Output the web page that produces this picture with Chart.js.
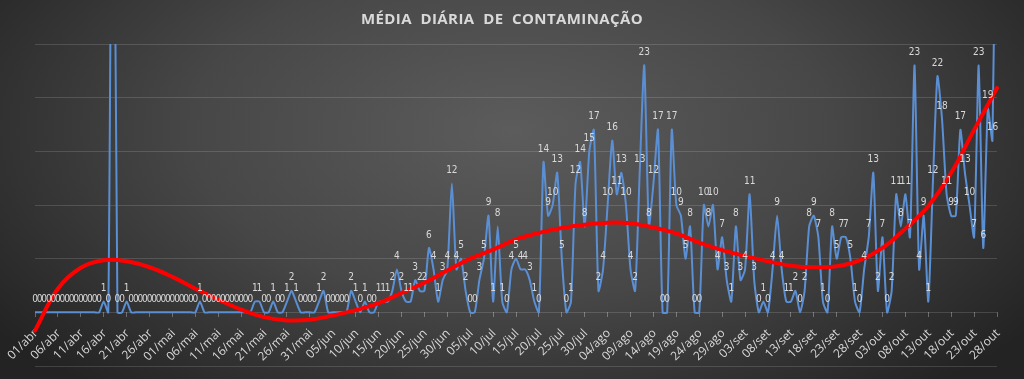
<!DOCTYPE html>
<html lang="pt">
<head>
<meta charset="UTF-8">
<title>Média diária de contaminação</title>
<script src="https://cdn.jsdelivr.net/npm/chart.js"></script>
<style>
  html, body { margin: 0; padding: 0; background: #2b2b2b; }
</style>
</head>
<body>
<canvas id="grafico" width="1024" height="379"></canvas>
<script>
// casos por dia (01/abr a 28/out)
const casosAbr = [0,0,0,0,0,0,0,0,0,0,0,0,0,0,0,1,0,60,0,0,1,0,0,0,0,0,0,0,0,0];
const casosMai = [0,0,0,0,0,0,1,0,0,0,0,0,0,0,0,0,0,0,1,1,0,0,1,0,0,1,2,1,0,0,0];
const casosJun = [0,1,2,0,0,0,0,0,2,1,0,1,0,0,1,1,1,2,4,2,1,1,3,2,2,6,4,1,3,4];
const casosJul = [12,4,5,2,0,0,3,5,9,1,8,1,0,4,5,4,4,3,1,0,14,9,10,13,5,0,1,12,14,8,15];
const casosAgo = [17,2,4,10,16,11,13,10,4,2,13,23,8,12,17,0,0,17,10,9,5,8,0,0,10,8,10,4,7,3,1];
const casosSet = [8,3,4,11,3,0,1,0,4,9,4,1,1,2,0,2,8,9,7,1,0,8,5,7,7,5,1,0,4,7];
const casosOut = [13,2,7,0,2,11,8,11,7,23,4,9,1,12,22,18,11,9,9,17,13,10,7,23,6,19,16,50];

// linha de tendência (polinomial do Excel), lida a cada 5 dias
const tendencia = [-1.7, 2.2, 4.15, 4.85, 4.75, 4.2, 3.3, 2.2, 1.2, 0.25, -0.45, -0.75, -0.7, -0.3,
  0.2, 0.85, 1.8, 2.75, 3.9, 5.0, 5.85, 6.8, 7.4, 7.85, 8.15, 8.35, 8.3, 7.9, 7.35, 6.5, 5.8,
  5.25, 4.75, 4.35, 4.2, 4.3, 4.85, 6.0, 7.8, 9.9, 13.0, 17.0, 20.9];

// rótulos do eixo, um a cada 5 dias
const rotulosEixo = ['01/abr','06/abr','11/abr','16/abr','21/abr','26/abr',
  '01/mai','06/mai','11/mai','16/mai','21/mai','26/mai','31/mai',
  '05/jun','10/jun','15/jun','20/jun','25/jun','30/jun',
  '05/jul','10/jul','15/jul','20/jul','25/jul','30/jul',
  '04/ago','09/ago','14/ago','19/ago','24/ago','29/ago',
  '03/set','08/set','13/set','18/set','23/set','28/set',
  '03/out','08/out','13/out','18/out','23/out','28/out'];

const casos = [].concat(casosAbr, casosMai, casosJun, casosJul, casosAgo, casosSet, casosOut);
const dias = casos.map((_, i) => i);
const tendSerie = dias.map(i => (i % 5 === 0 ? tendencia[i / 5] : null));

const Y_MAX = 25;

// fundo escuro com degradê + título
const fundo = {
  id: 'fundo',
  beforeDraw(chart) {
    const ctx = chart.ctx;
    ctx.save();
    ctx.translate(512, 130);
    ctx.scale(640, 340);
    const g = ctx.createRadialGradient(0, 0, 0, 0, 0, 1);
    g.addColorStop(0, '#5c5c5c');
    g.addColorStop(0.5, '#474747');
    g.addColorStop(1, '#232323');
    ctx.fillStyle = g;
    ctx.fillRect(-1, -1, 2, 2);
    ctx.restore();

    ctx.save();
    ctx.font = 'bold 15px "Open Sans", sans-serif';
    ctx.letterSpacing = '0.4px';
    ctx.fillStyle = '#d9d9d9';
    ctx.textAlign = 'center';
    ctx.textBaseline = 'middle';
    ctx.fillText('MÉDIA  DIÁRIA  DE  CONTAMINAÇÃO', 502, 20);
    ctx.restore();
  }
};

// datas do eixo x, inclinadas 45°, logo abaixo da linha do zero
const eixoDatas = {
  id: 'eixoDatas',
  beforeDatasetsDraw(chart) {
    const ctx = chart.ctx;
    const x = chart.scales.x;
    const y0 = chart.scales.y.getPixelForValue(0);
    ctx.save();
    ctx.font = '12px "Open Sans", sans-serif';
    ctx.fillStyle = '#d9d9d9';
    ctx.textAlign = 'right';
    ctx.textBaseline = 'middle';
    rotulosEixo.forEach((txt, k) => {
      const px = x.getPixelForValue(k * 5);
      ctx.save();
      ctx.translate(px + 1, y0 + 19);
      ctx.rotate(-Math.PI / 4);
      ctx.fillText(txt, 0, 0);
      ctx.restore();
    });
    ctx.restore();
  }
};

// valor de cada ponto acima da linha azul
const rotulos = {
  id: 'rotulos',
  afterDatasetsDraw(chart) {
    const ctx = chart.ctx;
    const meta = chart.getDatasetMeta(1);
    ctx.save();
    ctx.font = '10px "Liberation Sans Narrow", "DejaVu Sans Condensed", sans-serif';
    ctx.fillStyle = '#d9d9d9';
    ctx.textAlign = 'center';
    ctx.textBaseline = 'middle';
    meta.data.forEach((pt, i) => {
      const v = casos[i];
      if (v > Y_MAX) return;
      ctx.fillText(String(v), pt.x, pt.y - 13);
    });
    ctx.restore();
  }
};

new Chart(document.getElementById('grafico'), {
  type: 'line',
  data: {
    labels: dias,
    datasets: [
      {
        label: 'Tendência',
        data: tendSerie,
        borderColor: '#ff0000',
        borderWidth: 4,
        borderCapStyle: 'round',
        pointRadius: 0,
        tension: 0.4,
        spanGaps: true,
        order: 0
      },
      {
        label: 'Casos',
        data: casos,
        borderColor: '#5b8fd4',
        borderWidth: 2,
        pointRadius: 0,
        tension: 0.2,
        order: 1
      }
    ]
  },
  options: {
    responsive: false,
    devicePixelRatio: 1,
    animation: false,
    layout: { padding: { left: 35, right: 27, top: 44, bottom: 13 } },
    plugins: { legend: { display: false }, tooltip: { enabled: false } },
    scales: {
      x: {
        position: { y: 0 },
        offset: false,
        border: { display: false },
        grid: { drawOnChartArea: false, drawTicks: true, tickLength: 5, color: 'rgba(255,255,255,0.3)' },
        ticks: {
          display: false,
          autoSkip: false,
          callback: (v, i) => (i % 5 === 0 ? rotulosEixo[i / 5] : null)
        }
      },
      y: {
        min: -5,
        max: Y_MAX,
        border: { display: false },
        grid: { color: 'rgba(255,255,255,0.14)', drawTicks: false },
        ticks: { stepSize: 5, display: false }
      }
    }
  },
  plugins: [fundo, eixoDatas, rotulos]
});
</script>
</body>
</html>
